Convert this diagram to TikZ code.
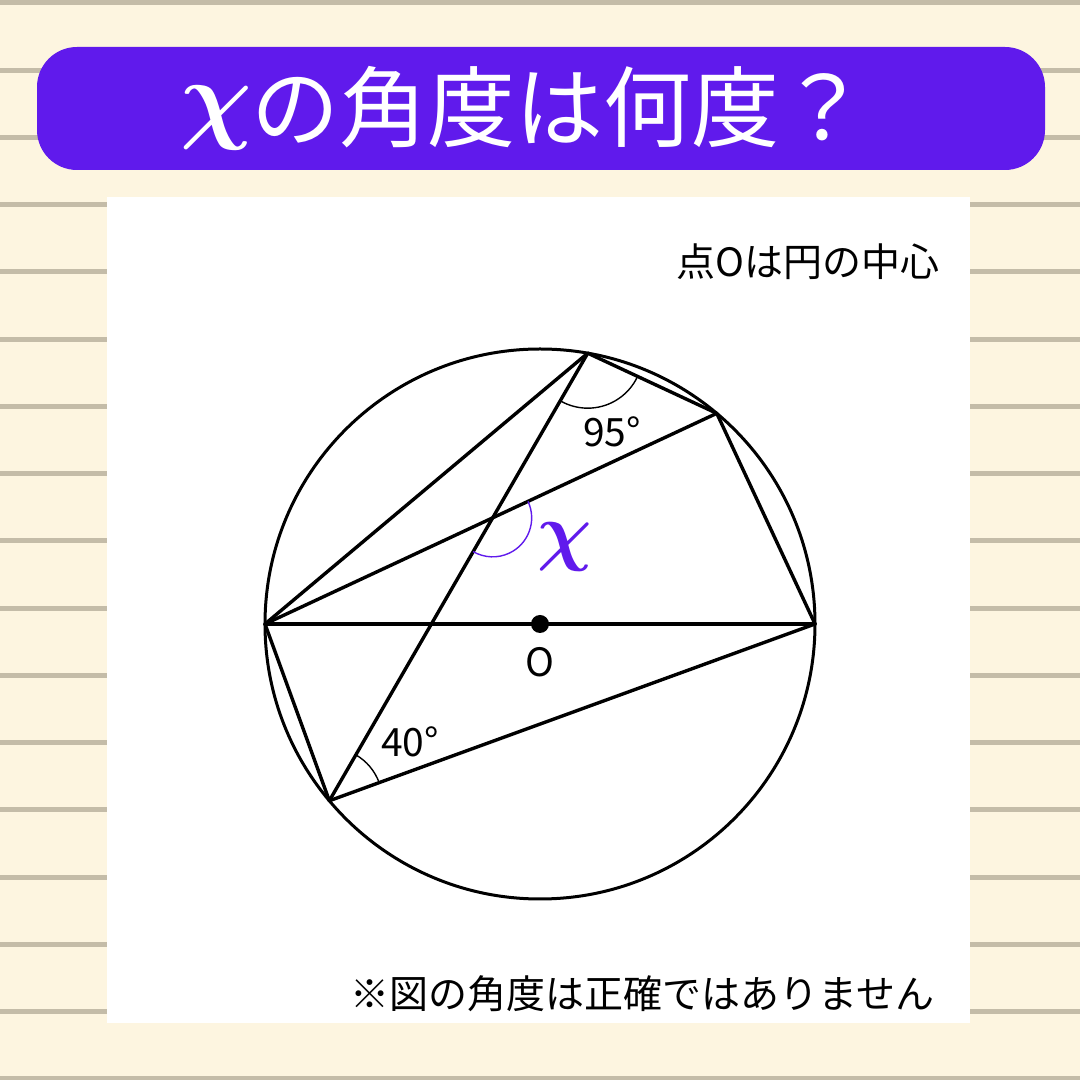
\RequirePackage{fix-cm}
\documentclass[tikz,border=0pt]{standalone}
\usepackage{bm}
\usepackage{fontspec}
\usepackage{tikz}
\newfontfamily\jpfont{Noto Sans CJK JP}
\definecolor{paper}{RGB}{253,245,224}
\definecolor{ruleline}{RGB}{196,188,168}
\definecolor{quizpurple}{RGB}{96,26,236}

\begin{document}
\begin{tikzpicture}[x=1pt,y=1pt,
    chord/.style={line width=3.4pt,line cap=round,line join=round},
    anglearc/.style={line width=1.4pt},
    small/.style={font=\jpfont\fontsize{39}{44}\selectfont,inner sep=0pt}]
    \useasboundingbox (0,0) rectangle (1080,1080);
    \fill[paper] (0,0) rectangle (1080,1080);
    \foreach \k in {0,...,16}
        \fill[ruleline] (0,{1079.5-67.25*\k}) rectangle (1080,{1074.5-67.25*\k});
    \fill[quizpurple,rounded corners=40pt] (37,910) rectangle (1045,1033);
    \node[text=white,inner sep=0pt] (title) at (524,972)
        {\fontsize{100}{110}\selectfont\raisebox{10pt}{$\bm{\chi}$}\jpfont\fontsize{88}{100}\selectfont の角度は何度？};
    \fill[white] (107,57) rectangle (970,883);
    \node[small,anchor=east] (note) at (940,818) {点Oは円の中心};
    \node[small,anchor=east] (warn) at (935,86) {※図の角度は正確ではありません};
    \begin{scope}[shift={(540,456)}]
        \coordinate (O) at (0,0);
        \coordinate (A) at (180:275);
        \coordinate (B) at (0:275);
        \coordinate (C) at (80:275);
        \coordinate (D) at (50:275);
        \coordinate (E) at (220:275);
    \end{scope}
    \coordinate (P) at (intersection of A--D and C--E);
    \draw[line width=3pt] (O) circle (275);
    \draw[chord] (A) -- (B);
    \draw[chord] (A) -- (C);
    \draw[chord] (A) -- (D);
    \draw[chord] (C) -- (E);
    \draw[chord] (C) -- (D);
    \draw[chord] (D) -- (B);
    \draw[chord] (A) -- (E);
    \draw[chord] (E) -- (B);
    \fill (O) circle (9);
    \draw[anglearc] ([shift={(240:55)}]C) arc[start angle=240,end angle=335,radius=55];
    \draw[anglearc] ([shift={(20:53)}]E) arc[start angle=20,end angle=60,radius=53];
    \draw[anglearc,quizpurple] ([shift={(25:39)}]P) arc[start angle=25,end angle=-120,radius=39];
    \node[small] (ninetyfive) at (612,648) {95°};
    \node[small] (forty) at (410,338) {40°};
    \node[small] (Olabel) at (540,418) {O};
    \node[text=quizpurple,inner sep=0pt] (xlabel) at (565,533) {\fontsize{76}{84}\selectfont$\bm{\chi}$};
\end{tikzpicture}
\end{document}
